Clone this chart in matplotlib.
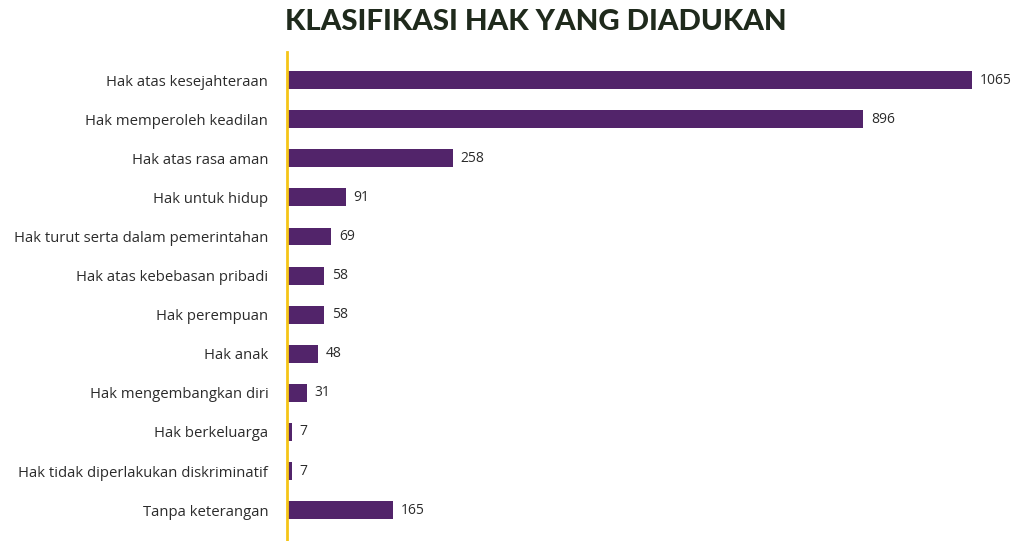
import matplotlib
matplotlib.use("Agg")
import matplotlib.pyplot as plt

categories = [
    "Hak atas kesejahteraan",
    "Hak memperoleh keadilan",
    "Hak atas rasa aman",
    "Hak untuk hidup",
    "Hak turut serta dalam pemerintahan",
    "Hak atas kebebasan pribadi",
    "Hak perempuan",
    "Hak anak",
    "Hak mengembangkan diri",
    "Hak berkeluarga",
    "Hak tidak diperlakukan diskriminatif",
    "Tanpa keterangan",
]
values = [1065, 896, 258, 91, 69, 58, 58, 48, 31, 7, 7, 165]
title = "KLASIFIKASI HAK YANG DIADUKAN"

bar_color = "#52246A"
axis_color = "#F5C518"
text_color = "#2B2B2B"

W, H = 1013, 541
fig = plt.figure(figsize=(W / 100, H / 100), dpi=100)
ax = fig.add_axes([287 / W, 0, (W - 287) / W, (H - 52) / H])

y = list(range(len(categories)))
ax.barh(y, values, height=0.46, color=bar_color)
ax.set_xlim(0, 1129)
ax.set_ylim(11.79, -0.72)

for yi, v in zip(y, values):
    ax.text(v + 12, yi, str(v), va="center", ha="left", fontsize=10,
            family="Open Sans", color=text_color)

ax.set_yticks(y)
ax.set_yticklabels(categories, fontsize=10.7, family="Open Sans", color=text_color)
ax.tick_params(axis="y", length=0, pad=13.5)
ax.set_xticks([])
for s in ["top", "right", "bottom"]:
    ax.spines[s].set_visible(False)
ax.spines["left"].set_color(axis_color)
ax.spines["left"].set_linewidth(2)

fig.text(536 / W, 1 - 22 / H, title, ha="center", va="center", fontsize=21.2,
         fontweight="black", family="Lato", color="#1F2A1C")

fig.savefig("out.png", dpi=100)
